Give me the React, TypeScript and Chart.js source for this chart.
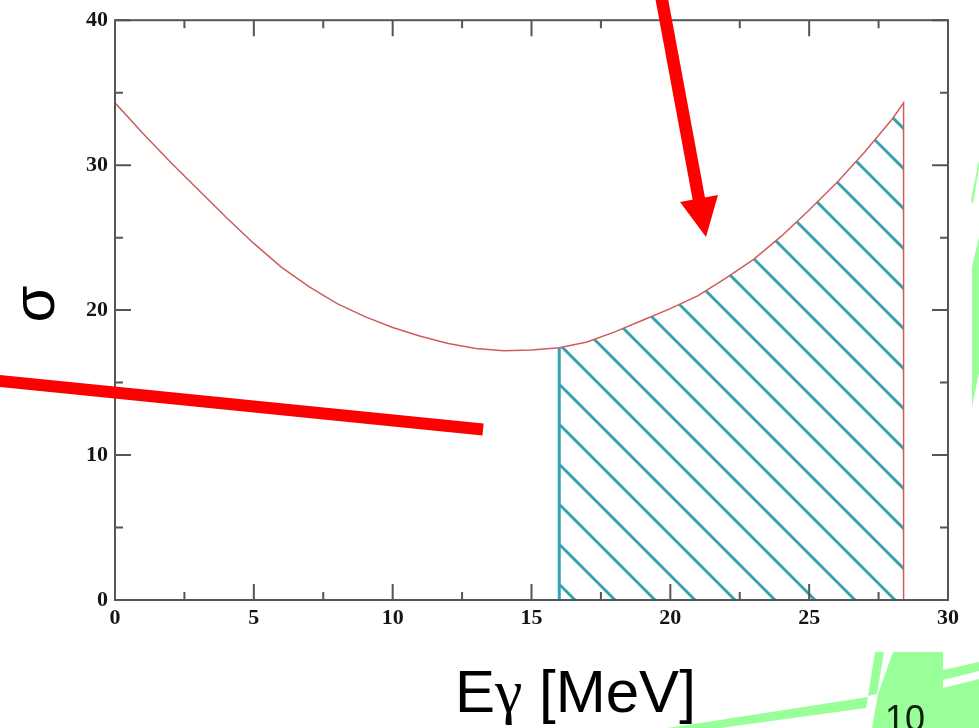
import React, { useEffect, useRef } from 'react';
import { Chart, registerables } from 'chart.js';

Chart.register(...registerables);

// ---- data ----
const ENERGY = [0, 1, 2, 3, 4, 5, 6, 7, 8, 9, 10, 11, 12, 13, 14, 15, 16, 17, 18, 19, 20, 21, 22, 23, 24, 25, 26, 27, 28, 28.4];
const SIGMA = [34.3, 32.2, 30.2, 28.3, 26.4, 24.6, 22.95, 21.6, 20.45, 19.55, 18.8, 18.2, 17.7, 17.35, 17.2, 17.25, 17.4, 17.8, 18.5, 19.3, 20.1, 21.0, 22.2, 23.5, 25.1, 26.9, 28.8, 30.9, 33.2, 34.3];
const THRESHOLD_E = 16;
const X_MIN = 0;
const X_MAX = 30;
const X_STEP = 5;
const Y_MIN = 0;
const Y_MAX = 40;
const Y_STEP = 10;
const X_TITLE_PARTS = ['E', 'γ', ' [MeV]'];
const Y_TITLE = 'σ';
const PAGE_NO = '10';

// ---- styles ----
const CURVE_COLOR = '#cf5c5c';
const TEAL = '#35a3ad';
const FRAME = '#555555';
const GREEN = '#99ff99';
const RED = '#ff0000';

export default function App() {
  const ref = useRef<HTMLCanvasElement | null>(null);

  useEffect(() => {
    const canvas = ref.current;
    if (!canvas) return;
    const ctx = canvas.getContext('2d')!;

    // hatch pattern (45° lines)
    const SP = 40;
    const PHASE = 15;
    const tile = document.createElement('canvas');
    tile.width = SP;
    tile.height = SP;
    const t = tile.getContext('2d')!;
    t.strokeStyle = TEAL;
    t.lineWidth = 3;
    for (let k = -3; k <= 2; k++) {
      const c = PHASE + k * SP;
      t.beginPath();
      t.moveTo(c - 20, -20);
      t.lineTo(c + SP + 20, SP + 20);
      t.stroke();
    }
    const pattern = ctx.createPattern(tile, 'repeat')!;

    const curve = ENERGY.map((e, i) => ({ x: e, y: SIGMA[i] }));
    curve.push({ x: ENERGY[ENERGY.length - 1], y: 0 });
    const hatch = ENERGY.map((e, i) => ({ x: e, y: SIGMA[i] })).filter((p) => p.x >= THRESHOLD_E);
    const thrIdx = ENERGY.indexOf(THRESHOLD_E);
    const thrLine = [{ x: THRESHOLD_E, y: 0 }, { x: THRESHOLD_E, y: SIGMA[thrIdx] }];

    const framePlugin = {
      id: 'frameTicks',
      afterDatasetsDraw(chart: any) {
        const { ctx: c, chartArea: a, scales } = chart;
        const xs = scales.x;
        const ys = scales.y;
        c.save();
        c.strokeStyle = FRAME;
        c.lineWidth = 2;
        c.strokeRect(a.left, a.top, a.right - a.left, a.bottom - a.top);
        c.beginPath();
        for (let v = X_MIN; v <= X_MAX + 1e-9; v += X_STEP / 2) {
          const major = Math.abs(v / X_STEP - Math.round(v / X_STEP)) < 1e-6;
          const len = major ? 16 : 8;
          const px = xs.getPixelForValue(v);
          c.moveTo(px, a.bottom);
          c.lineTo(px, a.bottom - len);
          c.moveTo(px, a.top);
          c.lineTo(px, a.top + len);
        }
        for (let v = Y_MIN; v <= Y_MAX + 1e-9; v += Y_STEP / 2) {
          const major = Math.abs(v / Y_STEP - Math.round(v / Y_STEP)) < 1e-6;
          const len = major ? 16 : 8;
          const py = ys.getPixelForValue(v);
          c.moveTo(a.left, py);
          c.lineTo(a.left + len, py);
          c.moveTo(a.right, py);
          c.lineTo(a.right - len, py);
        }
        c.stroke();
        c.restore();
      },
      afterDraw(chart: any) {
        const c = chart.ctx;
        c.save();
        // slide decorations (green)
        c.fillStyle = GREEN;
        const polys: number[][][] = [
          [[979, 160], [979, 168], [973, 204], [971, 200]],
          [[979, 237], [979, 373], [972, 407], [972, 267]],
          [[875, 652], [884, 652], [877, 694], [868, 696]],
          [[893, 652], [943, 652], [943, 728], [872, 728], [878, 694]],
          [[943, 670], [979, 662], [979, 728], [943, 728]],
          [[668, 728], [868, 697], [866, 708], [720, 728]],
        ];
        for (const p of polys) {
          c.beginPath();
          c.moveTo(p[0][0], p[0][1]);
          for (let i = 1; i < p.length; i++) c.lineTo(p[i][0], p[i][1]);
          c.closePath();
          c.fill();
        }
        c.fillStyle = '#ffffff';
        c.beginPath();
        c.moveTo(943, 680);
        c.lineTo(979, 671);
        c.lineTo(979, 679);
        c.lineTo(943, 688);
        c.closePath();
        c.fill();

        // red annotation arrows
        c.strokeStyle = RED;
        c.fillStyle = RED;
        c.lineCap = 'butt';
        c.lineWidth = 12;
        c.beginPath();
        c.moveTo(-5, 380.5);
        c.lineTo(483, 429.5);
        c.stroke();
        c.lineWidth = 12.5;
        c.beginPath();
        c.moveTo(661, -5);
        c.lineTo(700, 205);
        c.stroke();
        c.beginPath();
        c.moveTo(680, 202);
        c.lineTo(718, 195);
        c.lineTo(706, 237);
        c.closePath();
        c.fill();

        // titles
        c.fillStyle = '#000000';
        c.textAlign = 'left';
        c.textBaseline = 'alphabetic';
        const sans = '60px "Liberation Sans", Arial, sans-serif';
        const serif = '62px "Liberation Serif", "Times New Roman", serif';
        let xx = 455;
        X_TITLE_PARTS.forEach((part, i) => {
          c.font = i === 1 ? serif : sans;
          c.fillText(part, xx, 712);
          xx += c.measureText(part).width;
        });
        c.font = sans;
        c.save();
        c.translate(54, 304);
        c.rotate(-Math.PI / 2);
        c.textAlign = 'center';
        c.fillText(Y_TITLE, 0, 0);
        c.restore();
        c.fillStyle = '#0b1f0b';
        c.font = '36px "Liberation Sans", Arial, sans-serif';
        c.fillText(PAGE_NO, 885, 731);
        c.restore();
      },
    };

    const tickFont = { family: '"Liberation Serif", "Times New Roman", serif', weight: 'bold' as const, size: 22 };

    const chart = new Chart(ctx, {
      type: 'line',
      data: {
        datasets: [
          {
            data: curve,
            borderColor: CURVE_COLOR,
            borderWidth: 1.5,
            pointRadius: 0,
            fill: false,
            tension: 0,
            order: 0,
          },
          {
            data: thrLine,
            borderColor: TEAL,
            borderWidth: 3,
            pointRadius: 0,
            fill: false,
            order: 1,
          },
          {
            data: hatch,
            borderWidth: 0,
            borderColor: 'rgba(0,0,0,0)',
            backgroundColor: pattern as any,
            pointRadius: 0,
            fill: 'origin',
            order: 2,
          },
        ],
      },
      options: {
        responsive: false,
        maintainAspectRatio: false,
        animation: false,
        events: [],
        layout: { padding: { left: 0, right: 31, top: 17, bottom: 0 }, autoPadding: false } as any,
        plugins: { legend: { display: false }, tooltip: { enabled: false }, title: { display: false } },
        scales: {
          x: {
            type: 'linear',
            min: X_MIN,
            max: X_MAX,
            afterFit: (s: any) => {
              s.height = 128;
            },
            grid: { display: false, drawTicks: false },
            border: { display: false },
            ticks: { stepSize: X_STEP, font: tickFont, color: '#151515', padding: 5, maxRotation: 0 },
          },
          y: {
            type: 'linear',
            min: Y_MIN,
            max: Y_MAX,
            afterFit: (s: any) => {
              s.width = 115;
            },
            grid: { display: false, drawTicks: false },
            border: { display: false },
            ticks: { stepSize: Y_STEP, font: tickFont, color: '#151515', padding: 7 },
          },
        },
      },
      plugins: [framePlugin],
    });

    return () => chart.destroy();
  }, []);

  return (
    <div style={{ position: 'fixed', left: 0, top: 0, width: 979, height: 728, background: '#ffffff' }}>
      <canvas ref={ref} width={979} height={728} style={{ display: 'block', width: 979, height: 728 }} />
    </div>
  );
}
